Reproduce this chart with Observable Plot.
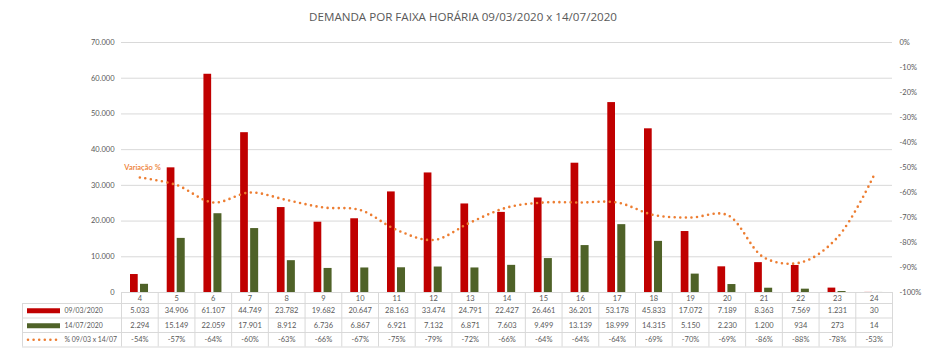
<!DOCTYPE html>
<html><head><meta charset="utf-8">
<script src="https://cdn.jsdelivr.net/npm/d3@7"></script>
<script src="https://cdn.jsdelivr.net/npm/@observablehq/plot@0.6"></script>
<style>
html,body{margin:0;padding:0;background:#fff;}
#title{height:30px;line-height:34px;text-align:center;font-family:"Open Sans",Lato,sans-serif;font-size:11.6px;color:#595959;white-space:nowrap;}
</style></head><body>
<div id="title">DEMANDA POR FAIXA HORÁRIA 09/03/2020 x 14/07/2020</div>
<div id="chart"></div>
<script>
const hours = [4,5,6,7,8,9,10,11,12,13,14,15,16,17,18,19,20,21,22,23,24];
const demand0903 = [5033,34906,61107,44749,23782,19682,20647,28163,33474,24791,22427,26461,36201,53178,45833,17072,7189,8363,7569,1231,30];
const demand1407 = [2294,15149,22059,17901,8912,6736,6867,6921,7132,6871,7603,9499,13139,18999,14315,5150,2230,1200,934,273,14];
const variation = [-54,-57,-64,-60,-63,-66,-67,-75,-79,-72,-66,-64,-64,-64,-69,-70,-69,-86,-88,-78,-53];
const seriesLabels = ["09/03/2020","14/07/2020","% 09/03 x 14/07"];
const leftTicks = [0,10000,20000,30000,40000,50000,60000,70000];
const rightTicks = [0,-10,-20,-30,-40,-50,-60,-70,-80,-90,-100];
const lineLabel = "Variação %";

const RED = "#C00000", GREEN = "#4F6228", ORANGE = "#ED7D31", GRID = "#D9D9D9", TXT = "#595959";
const W = 926, H = 323, mT = 12, mB = 61, mL = 121, mR = 34;
const bw = (W - mL - mR) / hours.length;
const plotH = H - mT - mB;
const yMax = 70000;
const pctToY = p => yMax * (1 + p / 100);

const loc = d3.formatLocale({decimal: ",", thousands: ".", grouping: [3], currency: ["", ""]});
const fmt = loc.format(",d");

const rows = hours.map((h, i) => ({h, a: demand0903[i], b: demand1407[i], p: variation[i]}));

// table geometry (offsets below the baseline)
const hLines = [11, 25.5, 40, 54.5];
const rowText = [5.7, 18.3, 33.2, 47.3];
const tableBottom = 54.5;
const legendLeft = mL - 99; // left edge of legend column

const marks = [];
// gridlines
marks.push(Plot.ruleY(leftTicks, {y: d => d, stroke: GRID, strokeWidth: 1}));
// bars
marks.push(Plot.barY(rows, {x: "h", y: "a", fill: RED, insetLeft: 9, insetRight: 20}));
marks.push(Plot.barY(rows, {x: "h", y: "b", fill: GREEN, insetLeft: 19, insetRight: 9.7}));
// variation line
marks.push(Plot.line(rows, {x: "h", y: d => pctToY(d.p), curve: "catmull-rom", stroke: ORANGE, strokeWidth: 2.6, strokeDasharray: "0 5.6", strokeLinecap: "round"}));
marks.push(Plot.text([rows[0]], {x: "h", y: d => pctToY(d.p), text: () => lineLabel, dx: -15.5, dy: -10, textAnchor: "start", fill: ORANGE, fontSize: 7.5, fontWeight: 600}));
// left axis labels
marks.push(Plot.text(leftTicks, {y: d => d, frameAnchor: "left", dx: -7, textAnchor: "end", text: d => fmt(d), fill: TXT, fontSize: 7.5}));
// right axis labels
marks.push(Plot.text(rightTicks, {y: p => pctToY(p), frameAnchor: "right", dx: 7, textAnchor: "start", text: p => p + "%", fill: TXT, fontSize: 7.5}));

// table: horizontal lines
marks.push(Plot.ruleY([0], {y: () => 0, stroke: GRID}));
for (const off of hLines) {
  marks.push(Plot.ruleY([0], {y: () => 0, dy: off, insetLeft: -(mL - legendLeft), stroke: GRID}));
}
// table: vertical lines
marks.push(Plot.ruleX(hours, {x: d => d, dx: -bw / 2, insetTop: plotH, insetBottom: -tableBottom, stroke: GRID}));
marks.push(Plot.ruleX([hours[hours.length - 1]], {x: d => d, dx: bw / 2, insetTop: plotH, insetBottom: -tableBottom, stroke: GRID}));
marks.push(Plot.ruleX([hours[0]], {x: d => d, dx: -bw / 2 - (mL - legendLeft), insetTop: plotH + hLines[0], insetBottom: -tableBottom, stroke: GRID}));
// table: header and values
marks.push(Plot.text(rows, {x: "h", y: () => 0, dy: rowText[0], text: d => String(d.h), fill: TXT, fontSize: 7.5}));
marks.push(Plot.text(rows, {x: "h", y: () => 0, dy: rowText[1], text: d => fmt(d.a), fill: TXT, fontSize: 7.5}));
marks.push(Plot.text(rows, {x: "h", y: () => 0, dy: rowText[2], text: d => fmt(d.b), fill: TXT, fontSize: 7.5}));
marks.push(Plot.text(rows, {x: "h", y: () => 0, dy: rowText[3], text: d => d.p + "%", fill: TXT, fontSize: 7.5}));
// legend swatches
const swRightRect = (W - mR) - 60, swRightDot = (W - mR) - 58;
marks.push(Plot.ruleY([0], {y: () => 0, dy: rowText[1], insetLeft: -(mL - 27), insetRight: swRightRect, stroke: RED, strokeWidth: 5}));
marks.push(Plot.ruleY([0], {y: () => 0, dy: rowText[2], insetLeft: -(mL - 27), insetRight: swRightRect, stroke: GREEN, strokeWidth: 5}));
marks.push(Plot.ruleY([0], {y: () => 0, dy: rowText[3], insetLeft: -(mL - 28), insetRight: swRightDot, stroke: ORANGE, strokeWidth: 2.6, strokeDasharray: "0 5.6", strokeLinecap: "round"}));
// legend labels
seriesLabels.forEach((lab, i) => {
  marks.push(Plot.text([hours[0]], {x: d => d, y: () => 0, dx: -bw / 2 - (mL - 64), dy: rowText[i + 1], text: () => lab, textAnchor: "start", fill: TXT, fontSize: 6.9}));
});

const chart = Plot.plot({
  width: W, height: H,
  marginTop: mT, marginBottom: mB, marginLeft: mL, marginRight: mR,
  x: {type: "band", domain: hours, padding: 0, round: false, axis: null},
  y: {domain: [0, yMax], axis: null},
  style: {fontFamily: "Lato, 'Open Sans', sans-serif", fontSize: "7.5px", color: TXT, background: "white", overflow: "visible"},
  marks
});
document.getElementById("chart").appendChild(chart);
</script>
</body></html>
